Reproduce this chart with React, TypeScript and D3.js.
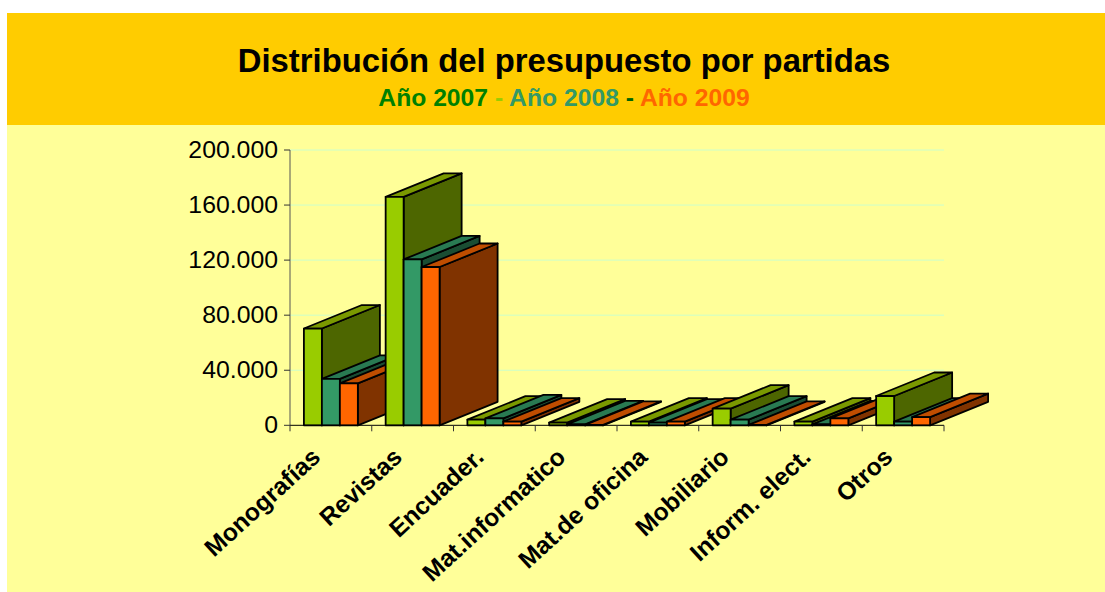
import React from "react";
import * as d3 from "d3";

const categories = ["Monografías", "Revistas", "Encuader.", "Mat.informatico", "Mat.de oficina", "Mobiliario", "Inform. elect.", "Otros"];
const series2007 = [70300, 166000, 4100, 2000, 2700, 12100, 2700, 21300];
const series2008 = [33700, 120500, 5000, 700, 2000, 4100, 700, 2700];
const series2009 = [30500, 115000, 2700, 300, 2700, 300, 5000, 6000];
const yTicks = [0, 40000, 80000, 120000, 160000, 200000];
const yTickLabels = ["0", "40.000", "80.000", "120.000", "160.000", "200.000"];

const seriesList = [
  { values: series2007, front: "#99CC00", top: "#7A9900", side: "#4D6600" },
  { values: series2008, front: "#339966", top: "#297A52", side: "#1A4D33" },
  { values: series2009, front: "#FF6600", top: "#BF4D00", side: "#803300" },
];

const FONT = "'Liberation Sans', Arial, sans-serif";
const DX = 58;
const DY = -23.5;

export default function App() {
  const x = d3.scaleBand<string>().domain(categories).range([290, 944]).paddingInner(0).paddingOuter(0);
  const y = d3.scaleLinear().domain([0, 200000]).range([425.3, 150]);
  const inner = x.bandwidth() * 0.17;
  const barW = (x.bandwidth() - inner * 2) / 3;
  const y0 = y(0);

  return (
    <svg width={1105} height={592} style={{ position: "absolute", left: 0, top: 0, display: "block" }} fontFamily={FONT}>
      <rect x={0} y={0} width={1105} height={592} fill="#ffffff" />
      <rect x={7} y={13} width={1098} height={579} fill="#FFFF99" />
      <rect x={7} y={13} width={1098} height={112} fill="#FFCC00" />
      <text x={564} y={72} textAnchor="middle" fontSize={32.8} fontWeight="bold" fill="#000">Distribución del presupuesto por partidas</text>
      <text x={564} y={106} textAnchor="middle" fontSize={24.7} fontWeight="bold">
        <tspan fill="#008000">Año 2007</tspan>
        <tspan fill="#99CC00"> - </tspan>
        <tspan fill="#339966">Año 2008</tspan>
        <tspan fill="#006600"> - </tspan>
        <tspan fill="#FF6600">Año 2009</tspan>
      </text>

      {yTicks.slice(1).map((t) => (
        <line key={t} x1={290} x2={944} y1={y(t)} y2={y(t)} stroke="#CCFFCC" strokeWidth={1} />
      ))}

      {categories.map((c, i) => (
        <g key={c}>
          {seriesList.map((s, j) => {
            const xl = (x(c) as number) + inner + j * barW;
            const xr = xl + barW;
            const yt = y(s.values[i]);
            return (
              <g key={j} stroke="#000" strokeWidth={1.8} strokeLinejoin="round">
                <polygon points={`${xr},${yt} ${xr + DX},${yt + DY} ${xr + DX},${y0 + DY} ${xr},${y0}`} fill={s.side} />
                <polygon points={`${xl},${yt} ${xl + DX},${yt + DY} ${xr + DX},${yt + DY} ${xr},${yt}`} fill={s.top} />
                <rect x={xl} y={yt} width={barW} height={y0 - yt} fill={s.front} />
              </g>
            );
          })}
        </g>
      ))}

      <line x1={290} x2={290} y1={150} y2={y0} stroke="#555" strokeWidth={1} />
      <line x1={290} x2={944} y1={y0} y2={y0} stroke="#000" strokeWidth={1} />
      {yTicks.map((t, i) => (
        <g key={t}>
          <line x1={284} x2={290} y1={y(t)} y2={y(t)} stroke="#333" strokeWidth={1} />
          <text x={278} y={y(t) + 7.5} textAnchor="end" fontSize={24.8} fill="#000">{yTickLabels[i]}</text>
        </g>
      ))}
      {d3.range(categories.length + 1).map((i) => {
        const tx = 290 + i * x.step();
        return <line key={i} x1={tx} x2={tx} y1={y0} y2={y0 + 6} stroke="#333" strokeWidth={1} />;
      })}
      {categories.map((c) => {
        const cx = (x(c) as number) + x.bandwidth() / 2;
        return (
          <text key={c} transform={`translate(${cx - 9},${459}) rotate(-42.5)`} textAnchor="end" fontSize={24.6} fontWeight="bold" fill="#000">{c}</text>
        );
      })}
    </svg>
  );
}
